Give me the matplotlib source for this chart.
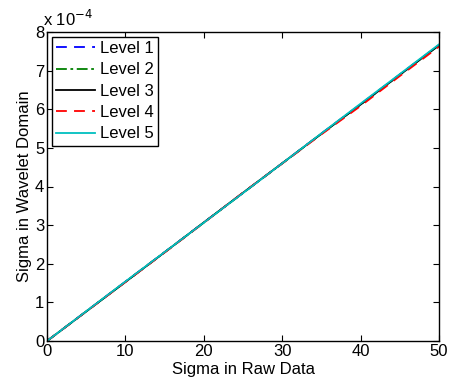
import matplotlib
matplotlib.use('Agg')
import matplotlib.pyplot as plt
import numpy as np

plt.rcParams['font.family'] = ['Liberation Sans', 'DejaVu Sans']
plt.rcParams['font.size'] = 12

# sigma in raw data
sigma_raw = [0, 5, 10, 15, 20, 25, 30, 35, 40, 45, 50]
# sigma in wavelet domain (units of 1e-4)
level1 = [0, 0.768, 1.535, 2.300, 3.068, 3.835, 4.600, 5.370, 6.130, 6.900, 7.665]
level2 = [0, 0.766, 1.532, 2.298, 3.064, 3.832, 4.598, 5.364, 6.125, 6.895, 7.660]
level3 = [0, 0.764, 1.528, 2.296, 3.070, 3.838, 4.602, 5.366, 6.120, 6.890, 7.655]
level4 = [0, 0.762, 1.525, 2.290, 3.060, 3.842, 4.595, 5.350, 6.085, 6.860, 7.620]
level5 = [0, 0.770, 1.540, 2.302, 3.065, 3.830, 4.600, 5.375, 6.145, 6.910, 7.680]

labels = ['Level 1', 'Level 2', 'Level 3', 'Level 4', 'Level 5']
series = [level1, level2, level3, level4, level5]
colors = ['#0000ff', '#008000', '#000000', '#ff0000', '#00bfbf']
styles = [(0, (6, 4)), (0, (6, 2, 1.5, 2)), '-', (0, (6, 4)), '-']

fig = plt.figure(figsize=(4.49, 3.83), dpi=100)
ax = fig.add_axes([47 / 449, 1 - 341 / 383, (439 - 47) / 449, (341 - 32) / 383])

for vals, lab, c, ls in zip(series, labels, colors, styles):
    ax.plot(sigma_raw, np.array(vals) * 1e-4, color=c, linestyle=ls, linewidth=1.3, label=lab)

ax.set_xlim(0, 50)
ax.set_ylim(0, 8e-4)
ax.set_xticks([0, 10, 20, 30, 40, 50])
ax.set_yticks(np.arange(0, 9) * 1e-4)
ax.set_yticklabels([str(i) for i in range(9)])
ax.tick_params(direction='in', top=True, right=True, length=4, width=0.8, pad=2)
for s in ax.spines.values():
    s.set_linewidth(1.0)

ax.text(-0.01, 1.01, r'x 10$^{-4}$', transform=ax.transAxes, ha='left', va='bottom', fontsize=12)

ax.set_xlabel('Sigma in Raw Data', labelpad=2)
ax.set_ylabel('Sigma in Wavelet Domain', labelpad=2)

leg = ax.legend(loc='upper left', fancybox=False, edgecolor='black', framealpha=1,
                borderaxespad=0.3, handlelength=2.3, labelspacing=0.38, borderpad=0.25,
                handletextpad=0.3)
leg.get_frame().set_linewidth(1.0)

fig.savefig('out.png', dpi=100)
